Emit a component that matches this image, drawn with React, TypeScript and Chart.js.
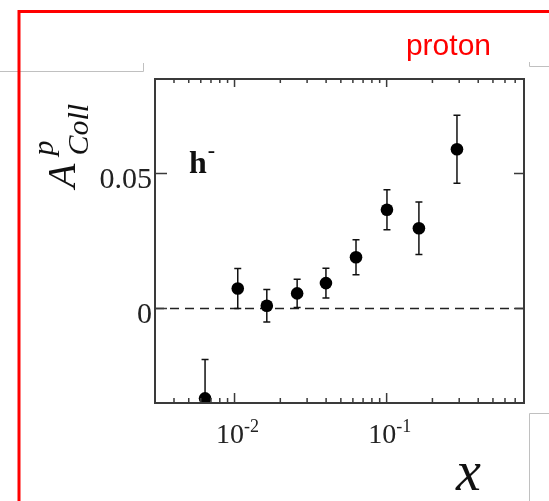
import React, { useEffect, useRef } from "react";
import { Chart, registerables } from "chart.js";

Chart.register(...registerables);

// Data
const xValues = [0.0064, 0.0105, 0.0163, 0.0258, 0.0399, 0.0629, 0.1005, 0.163, 0.29];
const yValues = [-0.0333, 0.0074, 0.001, 0.0056, 0.0094, 0.019, 0.0366, 0.0297, 0.059];
const yErrors = [0.0144, 0.0074, 0.006, 0.0052, 0.0055, 0.0065, 0.0074, 0.0097, 0.0126];

const xMajorTicks = [0.01, 0.1];
const xTickExponents = ["-2", "-1"];
const yMajorTicks = [0, 0.05];
const yTickLabels = ["0", "0.05"];

const SERIF = '"Liberation Serif", "Times New Roman", serif';
const SANS = '"Liberation Sans", Arial, sans-serif';

const decorPlugin = {
  id: "decor",
  beforeDraw(chart: any) {
    const ctx = chart.ctx;
    ctx.save();
    ctx.fillStyle = "#ffffff";
    ctx.fillRect(0, 0, chart.width, chart.height);
    // gray slide frame fragments
    ctx.strokeStyle = "#c0c0c0";
    ctx.lineWidth = 1;
    ctx.beginPath();
    ctx.moveTo(0, 71.5);
    ctx.lineTo(143.5, 71.5);
    ctx.lineTo(143.5, 63);
    ctx.moveTo(529.5, 62);
    ctx.lineTo(529.5, 66.5);
    ctx.lineTo(549, 66.5);
    ctx.moveTo(549, 413.5);
    ctx.lineTo(529.5, 413.5);
    ctx.lineTo(529.5, 501);
    ctx.stroke();
    ctx.restore();
  },
  beforeDatasetsDraw(chart: any) {
    const ctx = chart.ctx;
    const area = chart.chartArea;
    const xs = chart.scales.x;
    const ys = chart.scales.y;
    ctx.save();
    ctx.beginPath();
    ctx.rect(area.left, area.top, area.right - area.left, area.bottom - area.top);
    ctx.clip();
    // zero dashed line
    const y0 = ys.getPixelForValue(0);
    ctx.strokeStyle = "#222";
    ctx.lineWidth = 1.5;
    ctx.setLineDash([9, 6]);
    ctx.beginPath();
    ctx.moveTo(area.left, y0);
    ctx.lineTo(area.right, y0);
    ctx.stroke();
    ctx.setLineDash([]);
    // error bars
    ctx.strokeStyle = "#111";
    ctx.lineWidth = 1.5;
    for (let i = 0; i < xValues.length; i++) {
      const px = xs.getPixelForValue(xValues[i]);
      const pTop = ys.getPixelForValue(yValues[i] + yErrors[i]);
      const pBot = ys.getPixelForValue(yValues[i] - yErrors[i]);
      ctx.beginPath();
      ctx.moveTo(px, pTop);
      ctx.lineTo(px, pBot);
      ctx.moveTo(px - 3.5, pTop);
      ctx.lineTo(px + 3.5, pTop);
      ctx.moveTo(px - 3.5, pBot);
      ctx.lineTo(px + 3.5, pBot);
      ctx.stroke();
    }
    ctx.restore();
  },
  afterDatasetsDraw(chart: any) {
    const ctx = chart.ctx;
    const area = chart.chartArea;
    const xs = chart.scales.x;
    const ys = chart.scales.y;
    ctx.save();
    // frame
    ctx.strokeStyle = "#3a3a3a";
    ctx.lineWidth = 2;
    ctx.strokeRect(area.left, area.top, area.right - area.left, area.bottom - area.top);
    // x ticks (log)
    ctx.lineWidth = 1.5;
    ctx.beginPath();
    for (let d = -3; d <= 0; d++) {
      for (let k = 1; k <= 9; k++) {
        const v = k * Math.pow(10, d);
        if (v < xs.min * 1.0001 || v > xs.max * 0.9999) continue;
        const px = xs.getPixelForValue(v);
        const major = k === 1;
        const lenB = major ? 10 : 5;
        const lenT = major ? 8 : 4;
        ctx.moveTo(px, area.bottom);
        ctx.lineTo(px, area.bottom - lenB);
        ctx.moveTo(px, area.top);
        ctx.lineTo(px, area.top + lenT);
      }
    }
    // y ticks
    yMajorTicks.forEach((v) => {
      const py = ys.getPixelForValue(v);
      ctx.moveTo(area.left, py);
      ctx.lineTo(area.left + 12, py);
      ctx.moveTo(area.right, py);
      ctx.lineTo(area.right - 10, py);
    });
    ctx.stroke();

    // y tick labels
    ctx.fillStyle = "#222";
    ctx.font = `30px ${SERIF}`;
    ctx.textAlign = "right";
    ctx.textBaseline = "alphabetic";
    yMajorTicks.forEach((v, i) => {
      const py = ys.getPixelForValue(v);
      ctx.fillText(yTickLabels[i], area.left - 3, py + 14.5);
    });

    // x tick labels 10^n
    xMajorTicks.forEach((v, i) => {
      const px = xs.getPixelForValue(v);
      ctx.font = `28px ${SERIF}`;
      const baseW = ctx.measureText("10").width;
      ctx.font = `18px ${SERIF}`;
      const supW = ctx.measureText(xTickExponents[i]).width;
      const total = baseW + supW;
      const startX = px + 3 - total / 2;
      ctx.textAlign = "left";
      ctx.font = `28px ${SERIF}`;
      ctx.fillText("10", startX, 443);
      ctx.font = `18px ${SERIF}`;
      ctx.fillText(xTickExponents[i], startX + baseW, 432);
    });

    // x axis title
    ctx.font = `italic 56px ${SERIF}`;
    ctx.textAlign = "left";
    ctx.fillStyle = "#111";
    ctx.fillText("x", 456, 490);

    // y axis title, rotated
    ctx.save();
    ctx.translate(0, 188);
    ctx.rotate(-Math.PI / 2);
    ctx.font = `italic 40px ${SERIF}`;
    ctx.fillText("A", 0, 75);
    const aW = ctx.measureText("A").width;
    ctx.font = `italic 30px ${SERIF}`;
    ctx.fillText("p", aW + 8, 53);
    ctx.fillText("Coll", aW + 8, 88);
    ctx.restore();

    // h- label
    ctx.fillStyle = "#111";
    ctx.font = `bold 32px ${SERIF}`;
    ctx.textAlign = "left";
    ctx.fillText("h", 189, 173);
    const hW = ctx.measureText("h").width;
    ctx.font = `bold 22px ${SERIF}`;
    ctx.fillText("-", 189 + hW + 1, 157);

    // proton label
    ctx.fillStyle = "#ff0000";
    ctx.font = `30px ${SANS}`;
    ctx.textAlign = "right";
    ctx.fillText("proton", 491, 55);
    ctx.restore();
  },
  afterDraw(chart: any) {
    const ctx = chart.ctx;
    ctx.save();
    ctx.strokeStyle = "#ff0000";
    ctx.lineWidth = 3;
    ctx.beginPath();
    ctx.moveTo(19, 510);
    ctx.lineTo(19, 11.5);
    ctx.lineTo(560, 11.5);
    ctx.stroke();
    ctx.restore();
  },
};

export default function App() {
  const canvasRef = useRef<HTMLCanvasElement | null>(null);

  useEffect(() => {
    if (!canvasRef.current) return;
    const chart = new Chart(canvasRef.current, {
      type: "scatter",
      data: {
        datasets: [
          {
            data: xValues.map((x, i) => ({ x, y: yValues[i] })),
            pointRadius: 6.3,
            pointHoverRadius: 6.3,
            pointBackgroundColor: "#000",
            pointBorderWidth: 0,
            clip: 0,
          } as any,
        ],
      },
      options: {
        animation: false,
        responsive: false,
        devicePixelRatio: 1,
        layout: { padding: { left: 155, right: 25, top: 79, bottom: 98 } },
        plugins: { legend: { display: false }, tooltip: { enabled: false } },
        events: [],
        scales: {
          x: { type: "logarithmic", min: 0.003, max: 0.8, display: false },
          y: { type: "linear", min: -0.035, max: 0.085, display: false },
        },
      },
      plugins: [decorPlugin],
    });
    return () => chart.destroy();
  }, []);

  return (
    <div style={{ position: "absolute", left: 0, top: 0, width: 549, height: 501 }}>
      <canvas ref={canvasRef} width={549} height={501} style={{ display: "block" }} />
    </div>
  );
}
